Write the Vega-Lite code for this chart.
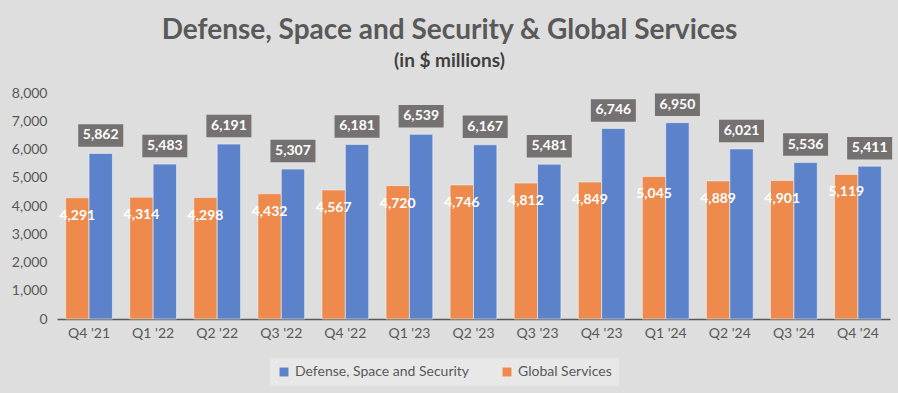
{
  "$schema": "https://vega.github.io/schema/vega-lite/v6.json",
  "width": 833,
  "height": 226,
  "autosize": {"type": "none"},
  "padding": {"left": 57, "top": 93, "right": 8, "bottom": 74},
  "background": "#dedede",
  "config": {
    "font": "Lato",
    "view": {"stroke": null},
    "axis": {"labelFont": "Lato", "labelColor": "#595959", "labelFontSize": 14, "title": null}
  },
  "title": {
    "text": "Defense, Space and Security & Global Services",
    "subtitle": "(in $ millions)",
    "font": "Lato",
    "fontSize": 28,
    "fontWeight": "bold",
    "color": "#595959",
    "subtitleFont": "Lato",
    "subtitleFontSize": 19,
    "subtitleFontWeight": "bold",
    "subtitleColor": "#404040",
    "subtitlePadding": 7,
    "anchor": "middle",
    "dx": -24,
    "offset": 15
  },
  "data": {
    "values": [
      {"quarter": "Q4 '21", "series": "Global Services", "value": 4291},
      {"quarter": "Q4 '21", "series": "Defense, Space and Security", "value": 5862},
      {"quarter": "Q1 '22", "series": "Global Services", "value": 4314},
      {"quarter": "Q1 '22", "series": "Defense, Space and Security", "value": 5483},
      {"quarter": "Q2 '22", "series": "Global Services", "value": 4298},
      {"quarter": "Q2 '22", "series": "Defense, Space and Security", "value": 6191},
      {"quarter": "Q3 '22", "series": "Global Services", "value": 4432},
      {"quarter": "Q3 '22", "series": "Defense, Space and Security", "value": 5307},
      {"quarter": "Q4 '22", "series": "Global Services", "value": 4567},
      {"quarter": "Q4 '22", "series": "Defense, Space and Security", "value": 6181},
      {"quarter": "Q1 '23", "series": "Global Services", "value": 4720},
      {"quarter": "Q1 '23", "series": "Defense, Space and Security", "value": 6539},
      {"quarter": "Q2 '23", "series": "Global Services", "value": 4746},
      {"quarter": "Q2 '23", "series": "Defense, Space and Security", "value": 6167},
      {"quarter": "Q3 '23", "series": "Global Services", "value": 4812},
      {"quarter": "Q3 '23", "series": "Defense, Space and Security", "value": 5481},
      {"quarter": "Q4 '23", "series": "Global Services", "value": 4849},
      {"quarter": "Q4 '23", "series": "Defense, Space and Security", "value": 6746},
      {"quarter": "Q1 '24", "series": "Global Services", "value": 5045},
      {"quarter": "Q1 '24", "series": "Defense, Space and Security", "value": 6950},
      {"quarter": "Q2 '24", "series": "Global Services", "value": 4889},
      {"quarter": "Q2 '24", "series": "Defense, Space and Security", "value": 6021},
      {"quarter": "Q3 '24", "series": "Global Services", "value": 4901},
      {"quarter": "Q3 '24", "series": "Defense, Space and Security", "value": 5536},
      {"quarter": "Q4 '24", "series": "Global Services", "value": 5119},
      {"quarter": "Q4 '24", "series": "Defense, Space and Security", "value": 5411}
    ]
  },
  "encoding": {
    "x": {
      "field": "quarter",
      "type": "nominal",
      "sort": null,
      "scale": {"paddingInner": 0.27, "paddingOuter": 0.135},
      "axis": {"labelAngle": 0, "ticks": false, "domainColor": "#595959", "domainWidth": 1.5, "labelPadding": 7}
    },
    "xOffset": {
      "field": "series",
      "type": "nominal",
      "scale": {"domain": ["Global Services", "Defense, Space and Security"], "paddingInner": 0, "paddingOuter": 0}
    },
    "y": {
      "field": "value",
      "type": "quantitative",
      "scale": {"domain": [0, 8000], "nice": false},
      "axis": {"values": [0,1000,2000,3000,4000,5000,6000,7000,8000], "format": ",.0f", "grid": false, "domain": false, "ticks": false, "labelPadding": 10}
    }
  },
  "layer": [
    {
      "mark": {"type": "bar", "stroke": "#f0f0f0", "strokeWidth": 0.6},
      "encoding": {
        "color": {
          "field": "series",
          "type": "nominal",
          "scale": {"domain": ["Defense, Space and Security", "Global Services"], "range": ["#5B82CA", "#ED8A4C"]},
          "legend": {
            "orient": "none",
            "legendX": 213,
            "legendY": 265,
            "direction": "horizontal",
            "title": null,
            "symbolType": "square",
            "symbolSize": 80,
            "symbolStrokeWidth": 0,
            "labelFont": "Lato",
            "labelFontSize": 14,
            "labelLimit": 300,
            "labelColor": "#595959",
            "fillColor": "#e8e8e8",
            "padding": 7,
            "columnPadding": 30
          }
        }
      }
    },
    {
      "transform": [{"filter": "datum.series === 'Global Services'"}],
      "mark": {"type": "text", "color": "#ffffff", "fontWeight": "bold", "fontSize": 14, "dy": 18, "baseline": "middle", "font": "Lato"},
      "encoding": {"text": {"field": "value", "type": "quantitative", "format": ","}}
    },
    {
      "transform": [{"filter": "datum.series === 'Defense, Space and Security'"}],
      "mark": {"type": "point", "shape": "M-1,-0.5H1V0.5H-1Z", "size": 2025, "filled": true, "color": "#767171", "opacity": 1, "yOffset": -18},
      "encoding": {}
    },
    {
      "transform": [{"filter": "datum.series === 'Defense, Space and Security'"}],
      "mark": {"type": "text", "color": "#ffffff", "fontWeight": "bold", "fontSize": 14, "dy": -18, "baseline": "middle", "font": "Lato"},
      "encoding": {"text": {"field": "value", "type": "quantitative", "format": ","}}
    }
  ]
}
